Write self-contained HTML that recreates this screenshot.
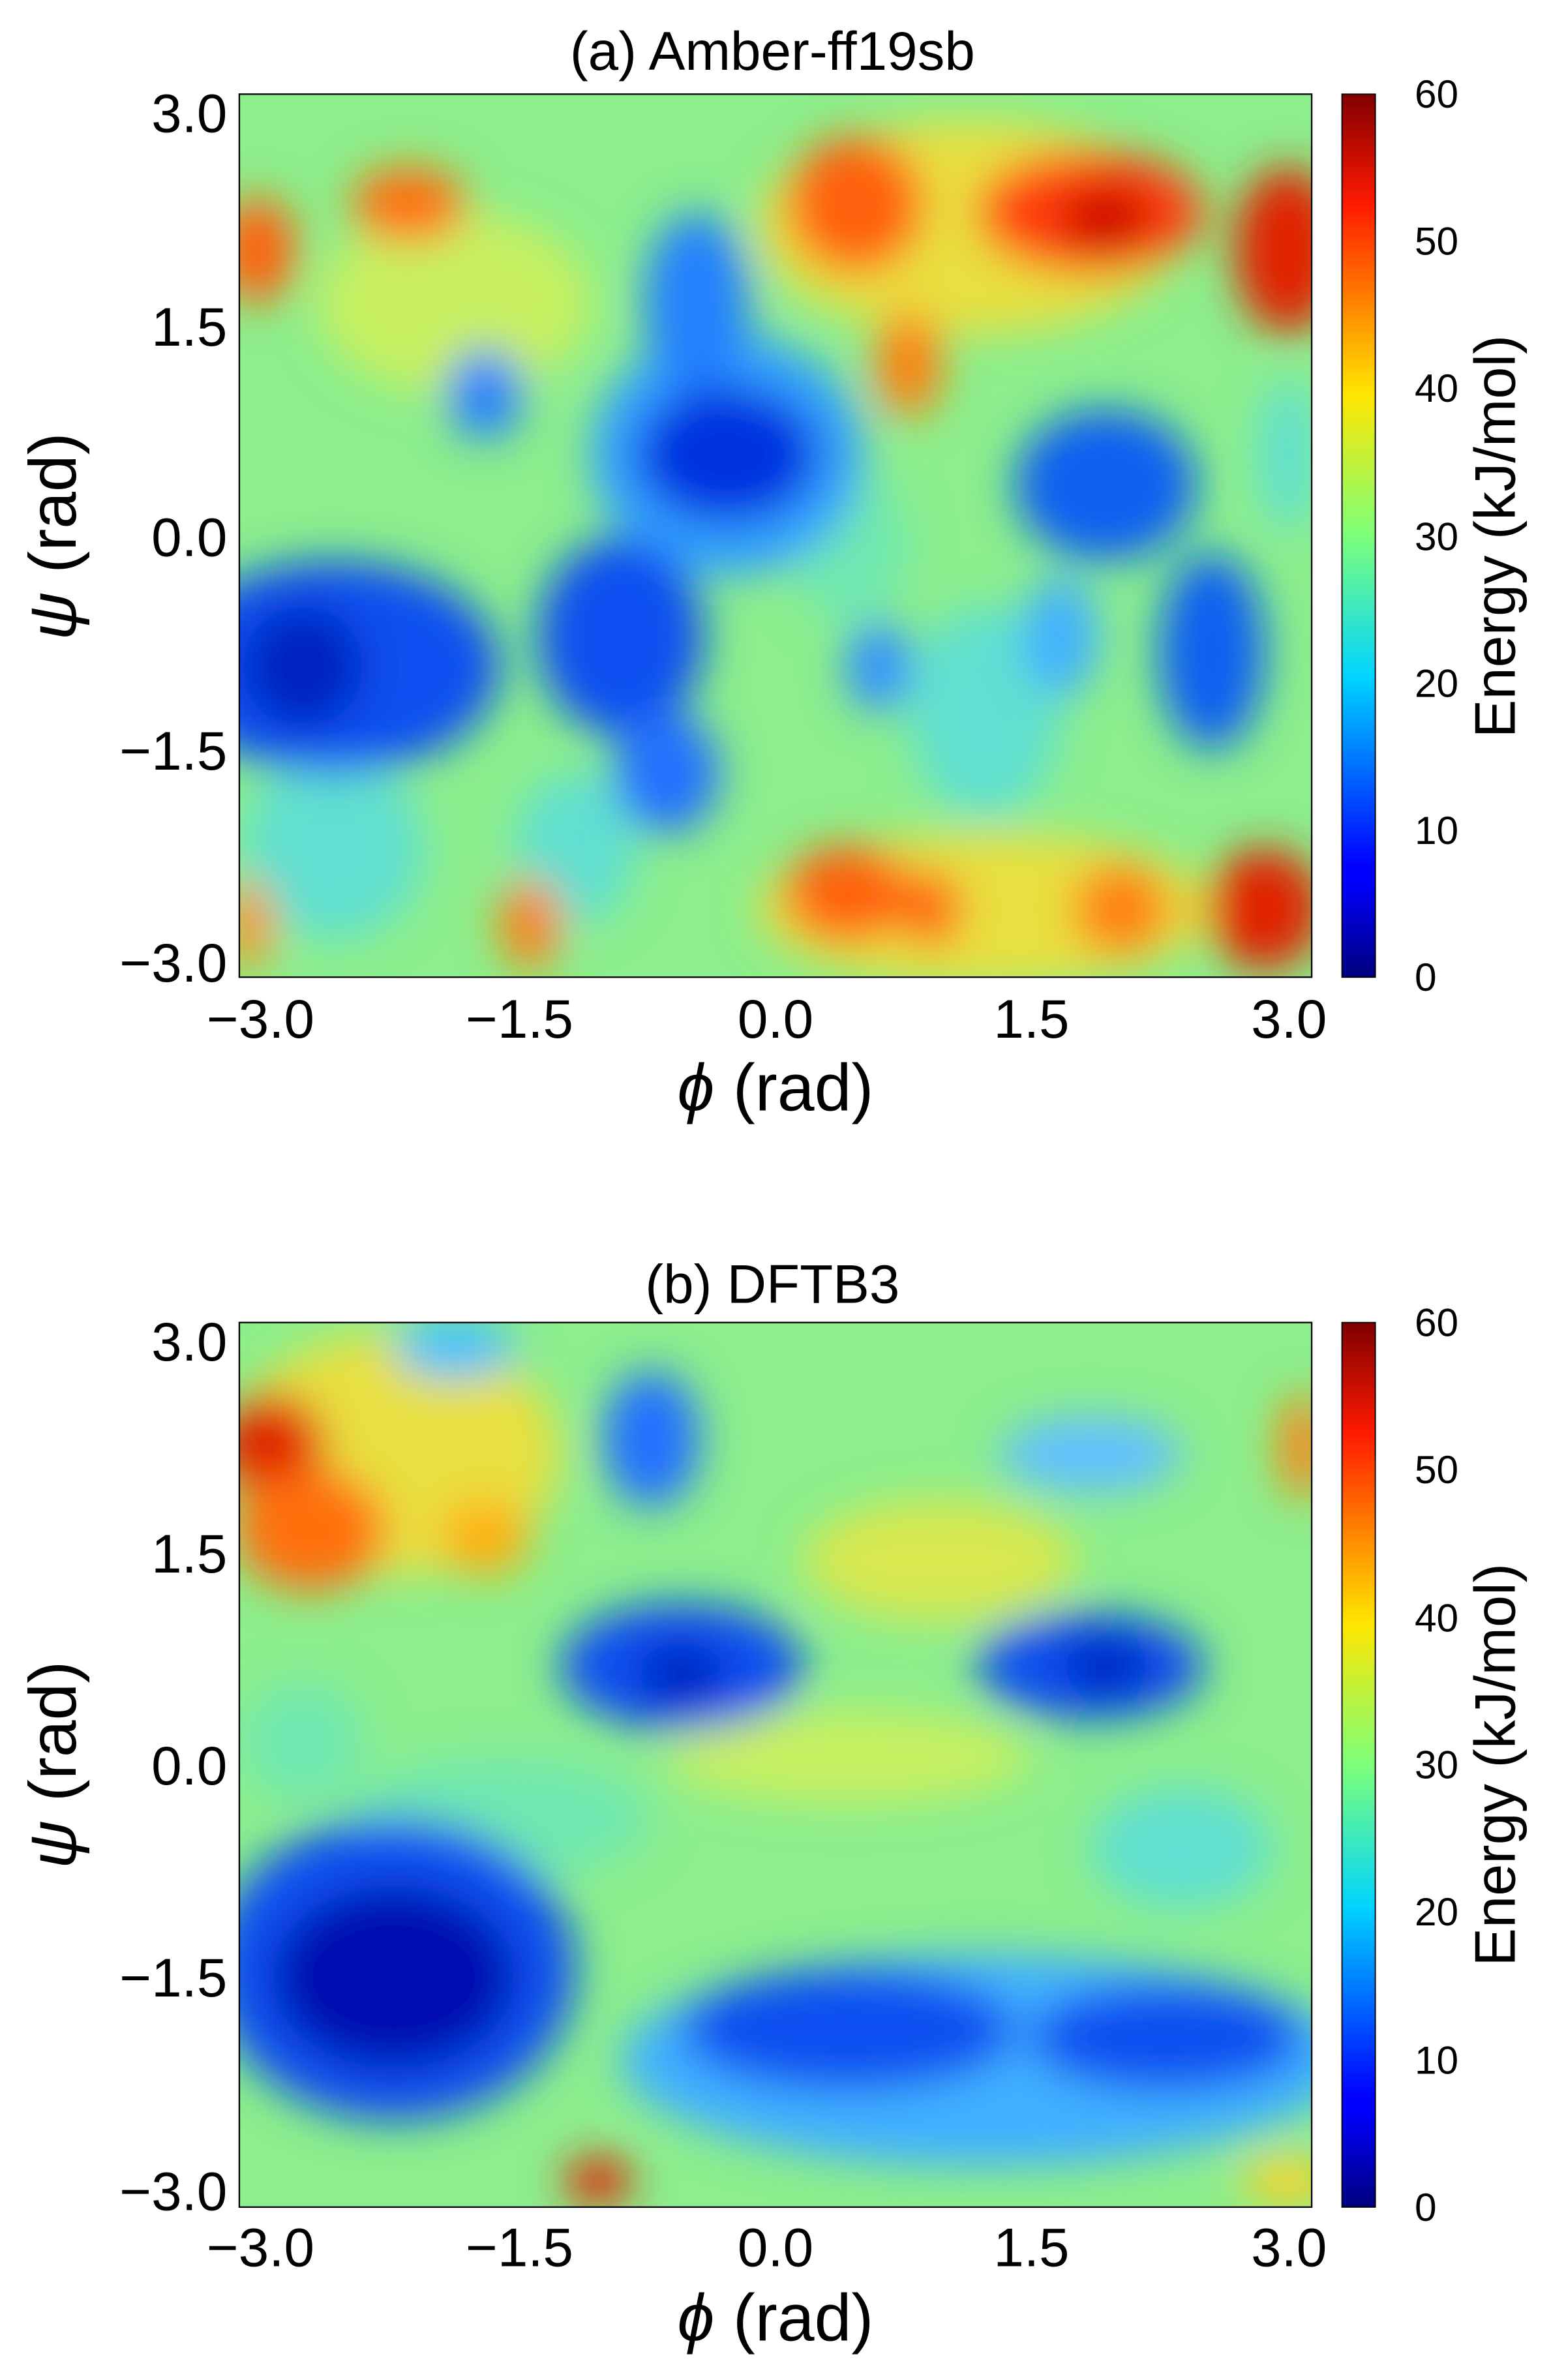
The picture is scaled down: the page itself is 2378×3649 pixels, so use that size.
<!DOCTYPE html>
<html><head><meta charset="utf-8"><style>html,body{margin:0;padding:0;background:#fff}svg{display:block}</style></head>
<body>
<svg width="2378" height="3649" viewBox="0 0 1024 1571" xmlns="http://www.w3.org/2000/svg" font-family="Liberation Sans, sans-serif">
<defs>
<linearGradient id="jet" x1="0" y1="1" x2="0" y2="0">
<stop offset="0" stop-color="#00007f"/><stop offset="0.11" stop-color="#0000ff"/>
<stop offset="0.125" stop-color="#0000ff"/><stop offset="0.34" stop-color="#00d4ff"/>
<stop offset="0.5" stop-color="#7dff7a"/><stop offset="0.66" stop-color="#ffe600"/>
<stop offset="0.875" stop-color="#ff1a00"/><stop offset="1" stop-color="#800000"/>
</linearGradient>
<filter id="bl" x="-20%" y="-20%" width="140%" height="140%"><feGaussianBlur stdDeviation="14"/></filter>
<clipPath id="ca"><rect x="158" y="62" width="708" height="583"/></clipPath>
<clipPath id="cb"><rect x="158" y="873" width="708" height="584"/></clipPath>
</defs>

<!-- Panel a -->
<text x="510" y="46" font-size="36" text-anchor="middle">(a) Amber-ff19sb</text>
<g clip-path="url(#ca)">
<rect x="158" y="62" width="708" height="583" fill="#8cee8c"/>
<g filter="url(#bl)">
<ellipse cx="300" cy="200" rx="90" ry="60" fill="#c8f060"/>
<ellipse cx="640" cy="150" rx="140" ry="70" fill="#e8e040"/>
<ellipse cx="650" cy="600" rx="150" ry="50" fill="#e8e040"/>
<ellipse cx="220" cy="560" rx="60" ry="60" fill="#60e0d0"/>
<ellipse cx="380" cy="560" rx="40" ry="50" fill="#60e0d0"/>
<ellipse cx="560" cy="360" rx="40" ry="50" fill="#70e8b0"/>
<ellipse cx="650" cy="470" rx="50" ry="70" fill="#60e0d0"/>
<ellipse cx="850" cy="300" rx="20" ry="50" fill="#60e0d0"/>
<ellipse cx="480" cy="300" rx="90" ry="80" fill="#30a0ff"/>
<ellipse cx="460" cy="200" rx="35" ry="60" fill="#2080ff"/>
<ellipse cx="480" cy="300" rx="60" ry="45" fill="#0030e0"/>
<ellipse cx="220" cy="440" rx="110" ry="70" fill="#1050f0"/>
<ellipse cx="200" cy="440" rx="40" ry="40" fill="#0020c0"/>
<ellipse cx="410" cy="420" rx="55" ry="65" fill="#1050f0"/>
<ellipse cx="440" cy="510" rx="35" ry="40" fill="#2070ff"/>
<ellipse cx="730" cy="320" rx="60" ry="50" fill="#1060f0"/>
<ellipse cx="800" cy="430" rx="35" ry="65" fill="#1060f0"/>
<ellipse cx="320" cy="260" rx="25" ry="30" fill="#2080ff"/>
<ellipse cx="580" cy="440" rx="22" ry="30" fill="#3090ff"/>
<ellipse cx="700" cy="420" rx="25" ry="40" fill="#40b0ff"/>
<ellipse cx="565" cy="135" rx="45" ry="45" fill="#ff6010"/>
<ellipse cx="720" cy="140" rx="75" ry="40" fill="#ff4010"/>
<ellipse cx="730" cy="145" rx="30" ry="25" fill="#d01000"/>
<ellipse cx="850" cy="165" rx="35" ry="55" fill="#e02000"/>
<ellipse cx="170" cy="165" rx="25" ry="35" fill="#ff6010"/>
<ellipse cx="270" cy="135" rx="38" ry="25" fill="#ff7010"/>
<ellipse cx="600" cy="240" rx="22" ry="35" fill="#ff8010"/>
<ellipse cx="560" cy="590" rx="42" ry="32" fill="#ff6010"/>
<ellipse cx="615" cy="600" rx="20" ry="25" fill="#ff6010"/>
<ellipse cx="740" cy="600" rx="32" ry="30" fill="#ff8010"/>
<ellipse cx="835" cy="600" rx="38" ry="40" fill="#e02000"/>
<ellipse cx="350" cy="610" rx="20" ry="30" fill="#ff8010"/>
<ellipse cx="165" cy="610" rx="15" ry="30" fill="#ff9010"/>
</g>
</g>
<rect x="158" y="62" width="708" height="583" fill="none" stroke="#000" stroke-width="1"/>
<g font-size="36" text-anchor="end">
<text x="150" y="87">3.0</text><text x="150" y="228">1.5</text><text x="150" y="367">0.0</text>
<text x="150" y="508">−1.5</text><text x="150" y="648">−3.0</text></g>
<g font-size="36" text-anchor="middle">
<text x="172" y="685">−3.0</text><text x="343" y="685">−1.5</text><text x="512" y="685">0.0</text>
<text x="681" y="685">1.5</text><text x="851" y="685">3.0</text></g>
<text x="512" y="733" font-size="44" text-anchor="middle"><tspan font-style="italic">ϕ</tspan> (rad)</text>
<text transform="translate(50,354) rotate(-90)" font-size="44" text-anchor="middle"><tspan font-style="italic">ψ</tspan> (rad)</text>
<rect x="886" y="62" width="22" height="583" fill="url(#jet)" stroke="#000" stroke-width="0.8"/>
<g font-size="26">
<text x="934" y="71">60</text><text x="934" y="168">50</text><text x="934" y="265">40</text>
<text x="934" y="363">30</text><text x="934" y="460">20</text><text x="934" y="557">10</text><text x="934" y="654">0</text></g>
<text transform="translate(1000,354) rotate(-90)" font-size="38" text-anchor="middle">Energy (kJ/mol)</text>

<!-- Panel b -->
<text x="510" y="860" font-size="36" text-anchor="middle">(b) DFTB3</text>
<g clip-path="url(#cb)">
<rect x="158" y="873" width="708" height="584" fill="#8cee8c"/>
<g filter="url(#bl)">
<ellipse cx="260" cy="960" rx="110" ry="80" fill="#e8e040"/>
<ellipse cx="620" cy="1030" rx="90" ry="40" fill="#d8e850"/>
<ellipse cx="560" cy="1160" rx="120" ry="30" fill="#c8f060"/>
<ellipse cx="330" cy="1200" rx="100" ry="40" fill="#70e8b0"/>
<ellipse cx="200" cy="1150" rx="40" ry="40" fill="#70e8b0"/>
<ellipse cx="780" cy="1220" rx="60" ry="40" fill="#60e0d0"/>
<ellipse cx="650" cy="1360" rx="240" ry="70" fill="#40b0ff"/>
<ellipse cx="260" cy="1300" rx="120" ry="100" fill="#1050f0"/>
<ellipse cx="260" cy="1305" rx="80" ry="60" fill="#0010b0"/>
<ellipse cx="560" cy="1340" rx="110" ry="40" fill="#1050f0"/>
<ellipse cx="770" cy="1345" rx="90" ry="35" fill="#1050f0"/>
<ellipse cx="450" cy="1100" rx="80" ry="42" fill="#1050f0"/>
<ellipse cx="450" cy="1105" rx="30" ry="20" fill="#0020c0"/>
<ellipse cx="720" cy="1100" rx="75" ry="35" fill="#1050f0"/>
<ellipse cx="730" cy="1100" rx="30" ry="18" fill="#0020c0"/>
<ellipse cx="430" cy="950" rx="32" ry="45" fill="#2070ff"/>
<ellipse cx="300" cy="890" rx="40" ry="20" fill="#40c0ff"/>
<ellipse cx="720" cy="960" rx="60" ry="25" fill="#60c0ff"/>
<ellipse cx="180" cy="955" rx="35" ry="35" fill="#e02000"/>
<ellipse cx="205" cy="1010" rx="50" ry="40" fill="#ff7010"/>
<ellipse cx="320" cy="1015" rx="30" ry="25" fill="#ffb010"/>
<ellipse cx="395" cy="1440" rx="22" ry="16" fill="#e02000"/>
<ellipse cx="860" cy="955" rx="15" ry="35" fill="#ff8010"/>
<ellipse cx="850" cy="1440" rx="30" ry="15" fill="#ffd020"/>
</g>
</g>
<rect x="158" y="873" width="708" height="584" fill="none" stroke="#000" stroke-width="1"/>
<g font-size="36" text-anchor="end">
<text x="150" y="898">3.0</text><text x="150" y="1038">1.5</text><text x="150" y="1178">0.0</text>
<text x="150" y="1318">−1.5</text><text x="150" y="1459">−3.0</text></g>
<g font-size="36" text-anchor="middle">
<text x="172" y="1496">−3.0</text><text x="343" y="1496">−1.5</text><text x="512" y="1496">0.0</text>
<text x="681" y="1496">1.5</text><text x="851" y="1496">3.0</text></g>
<text x="512" y="1545" font-size="44" text-anchor="middle"><tspan font-style="italic">ϕ</tspan> (rad)</text>
<text transform="translate(50,1165) rotate(-90)" font-size="44" text-anchor="middle"><tspan font-style="italic">ψ</tspan> (rad)</text>
<rect x="886" y="873" width="22" height="584" fill="url(#jet)" stroke="#000" stroke-width="0.8"/>
<g font-size="26">
<text x="934" y="882">60</text><text x="934" y="979">50</text><text x="934" y="1077">40</text>
<text x="934" y="1174">30</text><text x="934" y="1271">20</text><text x="934" y="1369">10</text><text x="934" y="1466">0</text></g>
<text transform="translate(1000,1165) rotate(-90)" font-size="38" text-anchor="middle">Energy (kJ/mol)</text>
</svg>
</body></html>
